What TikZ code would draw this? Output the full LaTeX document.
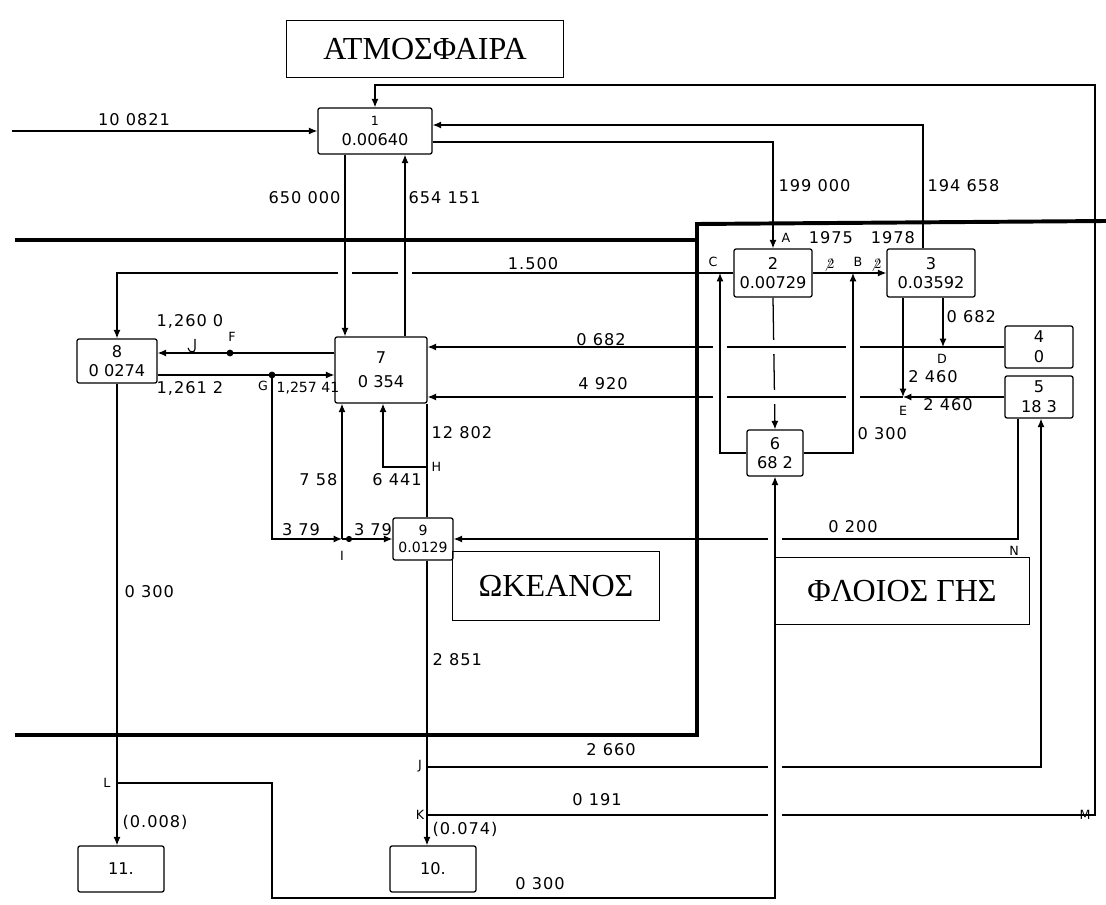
\documentclass[tikz,border=0pt]{standalone}
\usepackage{fontspec}
\setmainfont{Liberation Serif}
\newfontfamily\lblfont[LetterSpace=6]{DejaVu Sans}
\newfontfamily\boxfont{DejaVu Sans}
\usetikzlibrary{arrows.meta}

\begin{document}
\begin{tikzpicture}[x=0.025cm,y=-0.025cm,line width=0.9pt,
  box/.style={draw,rounded corners=1.5pt,inner sep=1pt,align=center,font=\boxfont\fontsize{11.5}{14}\selectfont},
  title/.style={draw,line width=0.7pt,font=\fontsize{22.8}{26}\selectfont},
  lbl/.style={inner sep=0pt,font=\lblfont\fontsize{11.5}{13}\selectfont},
  tag/.style={inner sep=0pt,font=\lblfont\fontsize{9}{10}\selectfont},
  flow/.style={-{Latex[length=6pt,width=5pt]}},
  wall/.style={line width=2.8pt}]
  \useasboundingbox (0,0) rectangle (1106,905);

  % titles
  \node[title,minimum width=6.9cm,minimum height=1.4cm] (atm) at (425,49) {ΑΤΜΟΣΦΑΙΡΑ};
  \node[title,minimum width=5.175cm,minimum height=1.7cm] (oke) at (556,586) {ΩΚΕΑΝΟΣ};
  \node[title,minimum width=6.35cm,minimum height=1.675cm] (flo) at (902,591) {ΦΛΟΙΟΣ ΓΗΣ};

  % reservoirs
  \node[box,minimum width=2.85cm,minimum height=1.15cm] (b1) at (375,131) {{\fontsize{9}{10}\selectfont 1}\\0.00640};
  \node[box,minimum width=1.95cm,minimum height=1.2cm] (b2) at (773,273) {2\\0.00729};
  \node[box,minimum width=2.2cm,minimum height=1.2cm] (b3) at (931,273) {3\\0.03592};
  \node[box,minimum width=1.7cm,minimum height=1.05cm] (b4) at (1039,347) {4\\0};
  \node[box,minimum width=1.7cm,minimum height=1.05cm] (b5) at (1039,397) {5\\18 3};
  \node[box,minimum width=1.4cm,minimum height=1.15cm] (b6) at (775,453) {6\\68 2};
  \node[box,minimum width=2.3cm,minimum height=1.65cm] (b7) at (381,370) {7\\[3pt]0 354};
  \node[box,minimum width=2.0cm,minimum height=1.1cm] (b8) at (117,361) {8\\0 0274};
  \node[box,minimum width=1.5cm,minimum height=1.05cm,font=\boxfont\fontsize{10}{12}\selectfont] (b9) at (423,539) {9\\0.0129};
  \node[box,minimum width=2.15cm,minimum height=1.15cm] (b10) at (433,869) {10.};
  \node[box,minimum width=2.15cm,minimum height=1.15cm] (b11) at (121,869) {11.};

  % junctions
  \coordinate (in0) at (12,131);
  \coordinate (Tp) at (1095,85);
  \coordinate (t3) at (923,125);
  \coordinate (a2) at (773,142);
  \coordinate (v650) at (345,240);
  \coordinate (v654) at (405,240);
  \coordinate (C) at (720,273);
  \coordinate (B) at (853,273);
  \coordinate (D) at (943,347);
  \coordinate (E) at (903,397);
  \coordinate (F) at (230,353);
  \coordinate (G) at (272,375);
  \coordinate (H) at (427,467);
  \coordinate (h2) at (383,467);
  \coordinate (I) at (342,539);
  \coordinate (J) at (427,767);
  \coordinate (K) at (427,815);
  \coordinate (L) at (117,783);
  \coordinate (Lb) at (272,898);
  \coordinate (M) at (1095,815);
  \coordinate (N) at (1018,539);
  \coordinate (j5) at (1041,767);

  % boundaries
  \draw[wall] (15,240) -- (697,240);
  \draw[wall] (1106,221) -- (697,224) -- (697,735) -- (15,735);

  % flows
  \draw[flow] (in0) -- (b1.west);
  \draw[flow] (K) -- (M) -- (Tp) -| (b1.north);
  \draw[flow] (t3 |- b3.north) -- (t3) -- (t3 -| b1.east);
  \draw[flow] (b1.east |- a2) -- (a2) -- (b2.north);
  \draw[flow] (b1.south -| v650) -- (b7.north -| v650);
  \draw[flow] (b7.north -| v654) -- (b1.south -| v654);
  \draw (b2.west) -- (C);
  \draw[flow] (C) -| (b8.north);
  \draw (b2.east) -- (B);
  \draw[flow] (B) -- (b3.west);
  \draw[flow] (b2.south) -- (b6.north);
  \draw[flow] (b6.west) -| (C);
  \draw[flow] (b6.east) -| (B);
  \draw[flow] (D |- b3.south) -- (D);
  \draw[flow] (E |- b3.south) -- (E);
  \draw (b4.west) -- (D);
  \draw[flow] (D) -- (D -| b7.east);
  \draw[flow] (b5.west) -- (E);
  \draw[flow] (E) -- (E -| b7.east);
  \draw[flow] (N |- b5.south) -- (N) -- (b9.east);
  \draw[flow] (J) -- (j5) -- (j5 |- b5.south);
  \draw[flow] (b7.west |- F) -- (F) -- (F -| b8.east);
  \draw[flow] (G -| b8.east) -- (G) -- (G -| b7.west);
  \draw[flow] (G) |- (I);
  \draw[flow] (I) -- (I |- b7.south);
  \draw[flow] (I) -- (b9.west);
  \draw (b7.south -| H) -- (H) -- (H |- b9.north);
  \draw[flow] (H) -- (h2) -- (h2 |- b7.south);
  \draw (J |- b9.south) -- (K);
  \draw[flow] (K) -- (K |- b10.north);
  \draw (L |- b8.south) -- (L);
  \draw[flow] (L) -- (L |- b11.north);
  \draw[flow] (L) -| (Lb) -| (b6.south);

  % broken crossings
  \foreach \x/\y in {345/273,405/273,720/347,853/347,720/397,853/397,775/539,775/767,775/815}{
    \fill[white] (\x-7,\y-2) rectangle (\x+7,\y+2);
    \draw (\x,\y-3) -- (\x,\y+3);}
  \foreach \x/\y in {775/347,775/397}{
    \fill[white] (\x-2,\y-7) rectangle (\x+2,\y+7);
    \draw (\x-3,\y) -- (\x+3,\y);}
  \fill (F) circle (2.4pt);
  \fill (G) circle (2.4pt);
  \fill (I) ++(7,0) circle (2.2pt);
  \draw[line width=0.8pt] (195,339) -- (195,349) .. controls (195,353) and (189,353) .. (188,348);

  % values
  \node[lbl] (q0821) at (134,120) {10 0821};
  \node[lbl,anchor=east] (q650) at (341,198) {650 000};
  \node[lbl,anchor=west] (q654) at (408,198) {654 151};
  \node[lbl,anchor=west] (q199) at (778,186) {199 000};
  \node[lbl,anchor=west] (q194) at (927,186) {194 658};
  \node[lbl] (q1500) at (533,264) {1.500};
  \node[lbl] (q1975) at (831,238) {1975};
  \node[lbl] (q1978) at (893,238) {1978};
  \node[inner sep=0pt] (zb1) at (829,265) {$\not2$};
  \node[inner sep=0pt] (zb2) at (876,265) {$\not2$};
  \node[lbl,anchor=west] (q682a) at (946,317) {0 682};
  \node[lbl] (q460a) at (933,377) {2 460};
  \node[lbl] (q460b) at (948,405) {2 460};
  \node[lbl,anchor=west] (q300a) at (857,434) {0 300};
  \node[lbl] (q682b) at (601,340) {0 682};
  \node[lbl] (q4920) at (603,384) {4 920};
  \node[lbl] (q200) at (853,527) {0 200};
  \node[lbl] (q1260) at (190,321) {1,260 0};
  \node[lbl] (q1261) at (190,388) {1,261 2};
  \node[lbl,anchor=west,font=\boxfont\fontsize{10}{12}\selectfont] (q1257) at (276,388) {1,257 41};
  \node[lbl,anchor=west] (q12802) at (431,433) {12 802};
  \node[lbl,anchor=east] (q758) at (338,480) {7 58};
  \node[lbl] (q6441) at (397,480) {6 441};
  \node[lbl] (q379a) at (301,530) {3 79};
  \node[lbl] (q379b) at (373,530) {3 79};
  \node[lbl,anchor=west] (q300b) at (124,592) {0 300};
  \node[lbl,anchor=west] (q2851) at (432,660) {2 851};
  \node[lbl] (q2660) at (611,750) {2 660};
  \node[lbl] (q191) at (597,800) {0 191};
  \node[lbl,anchor=west] (q008) at (122,822) {(0.008)};
  \node[lbl,anchor=west] (q074) at (432,829) {(0.074)};
  \node[lbl] (q300c) at (540,884) {0 300};

  % point letters
  \node[tag,anchor=west] (tA) at (781,238) {A};
  \node[tag] (tB) at (858,262) {B};
  \node[tag] (tC) at (713,262) {C};
  \node[tag] (tD) at (942,359) {D};
  \node[tag] (tE) at (903,411) {E};
  \node[tag] (tF) at (232,337) {F};
  \node[tag] (tG) at (263,386) {G};
  \node[tag,anchor=west] (tH) at (431,467) {H};
  \node[tag] (tI) at (342,556) {I};
  \node[tag] (tJ) at (420,766) {J};
  \node[tag] (tK) at (420,815) {K};
  \node[tag] (tL) at (107,783) {L};
  \node[tag] (tM) at (1085,815) {M};
  \node[tag] (tN) at (1014,551) {N};
\end{tikzpicture}
\end{document}
